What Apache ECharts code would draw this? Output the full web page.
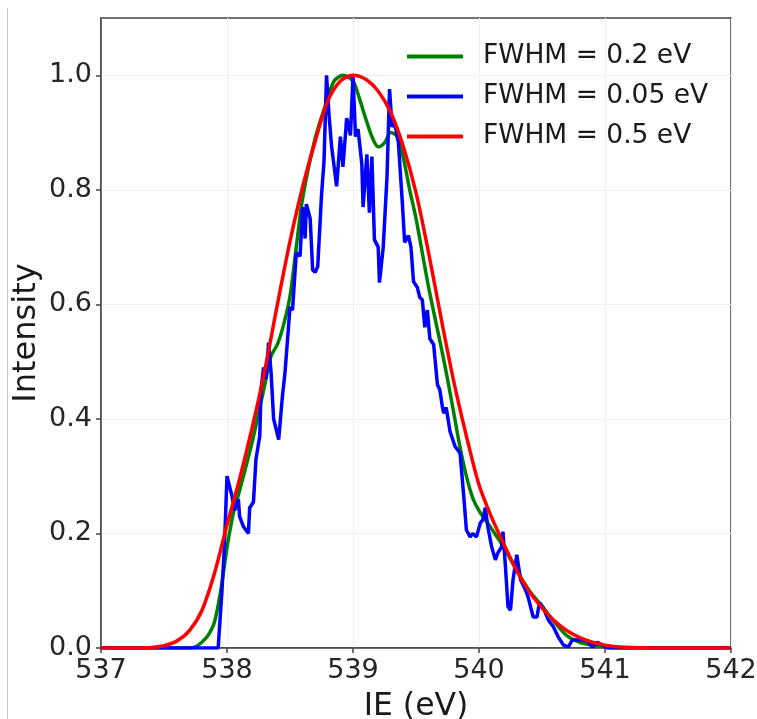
<!DOCTYPE html>
<html>
<head>
<meta charset="utf-8">
<script src="https://cdn.jsdelivr.net/npm/echarts@6/dist/echarts.min.js"></script>
<style>html,body{margin:0;padding:0;background:#fff;}#c{width:757px;height:719px;}</style>
</head>
<body>
<div id="c"></div>
<script>
var xTicks = [537, 538, 539, 540, 541, 542];
var yTicks = [0, 0.2, 0.4, 0.6, 0.8, 1.0];

var greenX = [537.0, 537.7, 537.75, 537.8, 537.85, 537.9, 537.95, 538.0, 538.05, 538.1, 538.2, 538.3, 538.35, 538.4, 538.45, 538.5, 538.55, 538.6, 538.7, 538.8, 538.85, 538.92, 539.0, 539.05, 539.1, 539.15, 539.2, 539.25, 539.3, 539.35, 539.4, 539.45, 539.5, 539.6, 539.7, 539.75, 539.8, 539.85, 539.9, 539.95, 540.0, 540.1, 540.2, 540.3, 540.4, 540.5, 540.6, 540.7, 540.8, 540.9, 541.0, 541.1, 542.0];
var greenY = [0, 0, 0.002, 0.01, 0.022, 0.045, 0.1, 0.175, 0.235, 0.275, 0.36, 0.46, 0.51, 0.53, 0.565, 0.614, 0.70, 0.785, 0.89, 0.96, 0.99, 1.0, 0.99, 0.96, 0.925, 0.893, 0.875, 0.882, 0.9, 0.893, 0.855, 0.80, 0.75, 0.63, 0.525, 0.47, 0.41, 0.35, 0.30, 0.262, 0.24, 0.208, 0.175, 0.135, 0.1, 0.073, 0.045, 0.021, 0.01, 0.005, 0.002, 0, 0];

var blueX = [537.0, 537.93, 537.96, 537.98, 538.0, 538.04, 538.06, 538.09, 538.10, 538.13, 538.17, 538.18, 538.21, 538.23, 538.26, 538.27, 538.29, 538.31, 538.33, 538.35, 538.37, 538.41, 538.44, 538.46, 538.50, 538.52, 538.55, 538.58, 538.60, 538.62, 538.63, 538.66, 538.68, 538.70, 538.72, 538.75, 538.77, 538.79, 538.81, 538.83, 538.87, 538.90, 538.92, 538.95, 538.98, 539.0, 539.02, 539.04, 539.07, 539.08, 539.11, 539.13, 539.15, 539.17, 539.20, 539.21, 539.24, 539.27, 539.29, 539.31, 539.33, 539.36, 539.39, 539.41, 539.44, 539.46, 539.48, 539.51, 539.53, 539.55, 539.57, 539.59, 539.61, 539.64, 539.67, 539.69, 539.71, 539.72, 539.74, 539.77, 539.81, 539.85, 539.88, 539.90, 539.93, 539.95, 539.98, 540.01, 540.03, 540.05, 540.07, 540.10, 540.13, 540.15, 540.18, 540.19, 540.21, 540.23, 540.25, 540.27, 540.30, 540.33, 540.37, 540.39, 540.43, 540.46, 540.48, 540.51, 540.55, 540.59, 540.63, 540.67, 540.71, 540.74, 540.80, 540.86, 540.90, 540.94, 541.02, 542.0];
var blueY = [0, 0, 0.10, 0.18, 0.30, 0.265, 0.24, 0.26, 0.23, 0.212, 0.20, 0.245, 0.255, 0.33, 0.37, 0.45, 0.49, 0.47, 0.533, 0.48, 0.40, 0.364, 0.44, 0.48, 0.595, 0.59, 0.69, 0.684, 0.77, 0.715, 0.775, 0.75, 0.66, 0.656, 0.666, 0.79, 0.85, 1.0, 0.93, 0.876, 0.806, 0.893, 0.84, 0.925, 0.895, 1.0, 0.893, 0.906, 0.845, 0.77, 0.862, 0.76, 0.858, 0.713, 0.70, 0.638, 0.70, 0.823, 0.976, 0.91, 0.918, 0.883, 0.783, 0.708, 0.72, 0.70, 0.64, 0.63, 0.612, 0.608, 0.56, 0.59, 0.54, 0.53, 0.46, 0.45, 0.42, 0.41, 0.42, 0.378, 0.352, 0.34, 0.262, 0.206, 0.194, 0.20, 0.194, 0.218, 0.224, 0.245, 0.212, 0.177, 0.154, 0.166, 0.177, 0.203, 0.142, 0.072, 0.066, 0.119, 0.163, 0.119, 0.101, 0.089, 0.054, 0.054, 0.079, 0.07, 0.049, 0.037, 0.019, 0.005, 0.002, 0.014, 0.014, 0.012, 0.002, 0.01, 0, 0];

var redX = [537.0, 537.3, 537.4, 537.5, 537.6, 537.7, 537.8, 537.9, 538.0, 538.1, 538.2, 538.3, 538.4, 538.5, 538.6, 538.7, 538.8, 538.9, 539.0, 539.1, 539.2, 539.3, 539.4, 539.5, 539.6, 539.7, 539.8, 539.9, 540.0, 540.1, 540.2, 540.3, 540.4, 540.5, 540.6, 540.7, 540.8, 540.9, 541.0, 541.1, 541.2, 541.4, 542.0];
var redY = [0, 0, 0.001, 0.004, 0.012, 0.03, 0.065, 0.13, 0.215, 0.295, 0.385, 0.485, 0.60, 0.71, 0.805, 0.885, 0.955, 0.99, 1.0, 0.993, 0.972, 0.935, 0.875, 0.795, 0.69, 0.575, 0.465, 0.37, 0.285, 0.228, 0.18, 0.135, 0.098, 0.07, 0.047, 0.03, 0.018, 0.01, 0.005, 0.002, 0.001, 0, 0];

var names = ['FWHM = 0.2 eV', 'FWHM = 0.05 eV', 'FWHM = 0.5 eV'];
var colors = ['#008000', '#0000ff', '#ff0000'];

function pairs(xs, ys) { return xs.map(function (x, i) { return [x, ys[i]]; }); }

var FONT = 'DejaVu Sans';
var chart = echarts.init(document.getElementById('c'), null, { renderer: 'canvas' });
chart.setOption({
  animation: false,
  backgroundColor: '#fff',
  color: colors,
  graphic: [{ type: 'line', shape: { x1: 7.5, y1: 8, x2: 7.5, y2: 719 }, style: { stroke: '#c8c8c8', lineWidth: 1 } }],
  grid: { left: 101, right: 26, top: 18, bottom: 71, outerBoundsMode: 'none', containLabel: false, show: true, borderColor: '#444', borderWidth: 1.5, backgroundColor: 'transparent' },
  legend: {
    orient: 'vertical', left: 407, top: 43, padding: 0, itemWidth: 56, itemHeight: 4, itemGap: 13, icon: 'rect',
    data: names,
    textStyle: { fontFamily: FONT, fontSize: 26.5, color: '#1a1a1a', lineHeight: 26, padding: [0, 0, 0, 15] }
  },
  xAxis: {
    type: 'value', min: 537, max: 542, interval: 1,
    name: 'IE (eV)', nameLocation: 'middle', nameGap: 43,
    nameTextStyle: { fontFamily: FONT, fontSize: 31.5, color: '#1a1a1a' },
    axisLine: { show: true, lineStyle: { color: '#444', width: 1.5 } },
    axisTick: { show: true, length: 5, lineStyle: { color: '#444', width: 1.5 } },
    axisLabel: { fontFamily: FONT, fontSize: 27, color: '#262626', margin: 9, formatter: function (v) { return String(v); } },
    splitLine: { show: true, lineStyle: { color: '#f0f0f0', width: 1 } }
  },
  yAxis: {
    type: 'value', min: 0, max: 1.1, interval: 0.2,
    name: 'Intensity', nameLocation: 'middle', nameGap: 58, nameMoveOverlap: false,
    nameTextStyle: { fontFamily: FONT, fontSize: 32, color: '#1a1a1a' },
    axisLine: { show: true, lineStyle: { color: '#444', width: 1.5 } },
    axisTick: { show: true, length: 5, customValues: yTicks, lineStyle: { color: '#444', width: 1.5 } },
    axisLabel: { fontFamily: FONT, fontSize: 27, color: '#262626', margin: 9, customValues: yTicks, formatter: function (v) { return v.toFixed(1); } },
    splitLine: { show: true, lineStyle: { color: '#f0f0f0', width: 1 } }
  },
  series: [
    { name: names[0], type: 'line', data: pairs(greenX, greenY), showSymbol: false, smooth: 0.3, lineStyle: { width: 3.5, color: colors[0] }, itemStyle: { color: colors[0] } },
    { name: names[1], type: 'line', data: pairs(blueX, blueY), showSymbol: false, lineStyle: { width: 3.5, color: colors[1] }, itemStyle: { color: colors[1] } },
    { name: names[2], type: 'line', data: pairs(redX, redY), showSymbol: false, smooth: 0.3, lineStyle: { width: 3.5, color: colors[2] }, itemStyle: { color: colors[2] } }
  ]
});
</script>
</body>
</html>
